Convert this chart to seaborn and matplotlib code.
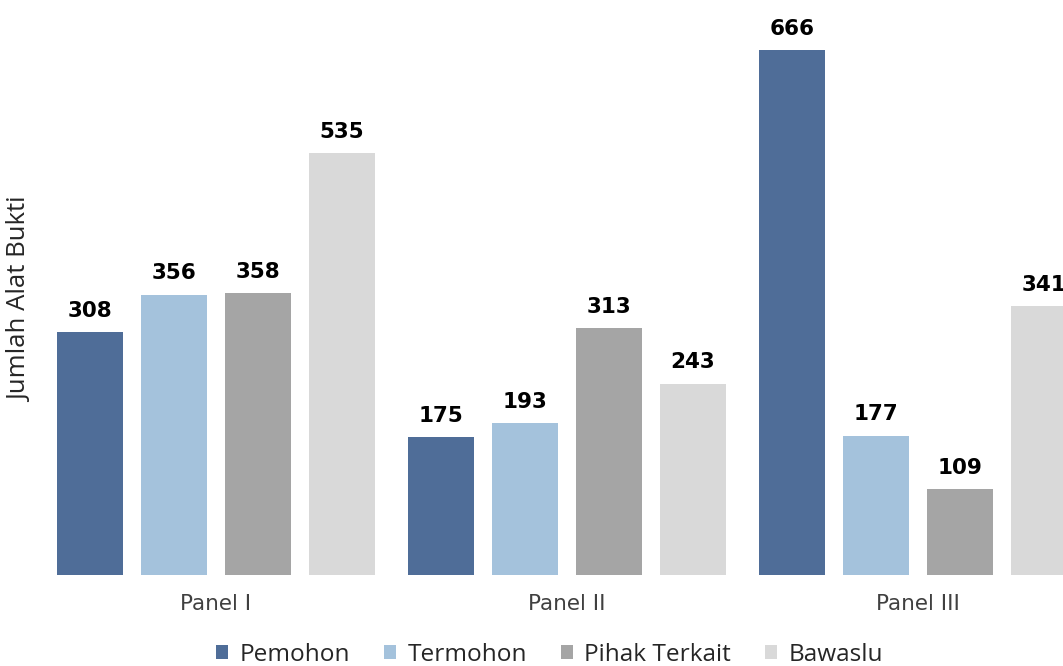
import matplotlib
matplotlib.use("Agg")
import matplotlib.pyplot as plt
import seaborn as sns
import pandas as pd

categories = ["Panel I", "Panel II", "Panel III"]
series = ["Pemohon", "Termohon", "Pihak Terkait", "Bawaslu"]
pemohon = [308, 175, 666]
termohon = [356, 193, 177]
pihak_terkait = [358, 313, 109]
bawaslu = [535, 243, 341]
colors = ["#4F6D98", "#A4C2DC", "#A5A5A5", "#D9D9D9"]
y_label = "Jumlah Alat Bukti"

rows = []
for s, vals in zip(series, [pemohon, termohon, pihak_terkait, bawaslu]):
    for c, v in zip(categories, vals):
        rows.append({"Panel": c, "Pihak": s, "Jumlah": v})
df = pd.DataFrame(rows)

sns.set_theme(style="white")
plt.rcParams["font.family"] = ["DejaVu Sans"]

fig = plt.figure(figsize=(10.63, 6.66), dpi=100)
ax = fig.add_axes([0.0381, 0.1366, 0.9906, 0.8282])
sns.barplot(data=df, x="Panel", y="Jumlah", hue="Pihak", order=categories,
            hue_order=series, palette=colors, width=0.957, gap=0.214,
            errorbar=None, linewidth=0, saturation=1, ax=ax, legend=True)

for cont in ax.containers:
    ax.bar_label(cont, fmt="%d", padding=8, fontsize=15.5, fontweight="bold",
                 color="black")

ax.set_xlim(-0.5, 2.5)
ax.set_ylim(0, 700)
ax.set_yticks([])
ax.set_xlabel("")
ax.set_ylabel(y_label, fontsize=18.5, family=["Open Sans", "DejaVu Sans"],
              color="#262626", va="center", ha="center")
ax.yaxis.set_label_coords(-0.0185, 0.5)
ax.tick_params(axis="x", length=0, pad=14, labelsize=15.5, labelcolor="#404040")
for sp in ax.spines.values():
    sp.set_visible(False)

handles, labels = ax.get_legend_handles_labels()
ax.get_legend().remove()
fig.legend(handles, labels, loc="center", bbox_to_anchor=(0.517, 0.017), ncol=4,
           frameon=False, handlelength=0.5, handleheight=0.5, handletextpad=0.45,
           columnspacing=1.4, prop={"family": ["Open Sans", "DejaVu Sans"], "size": 17.6},
           labelcolor="#262626", borderaxespad=0, borderpad=0)

fig.savefig("out.png", dpi=100)
